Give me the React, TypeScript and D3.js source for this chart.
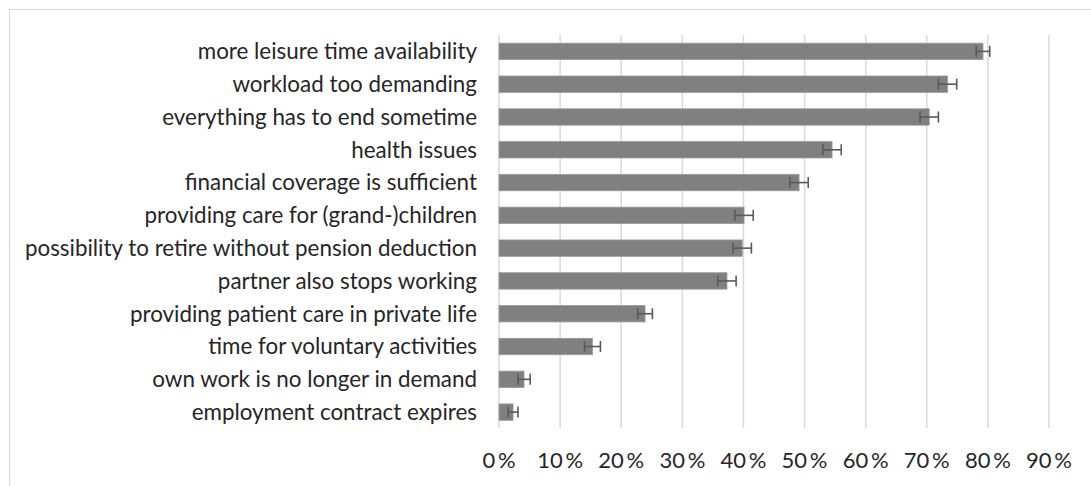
import React from "react";
import * as d3 from "d3";

const categories = [
  "more leisure time availability",
  "workload too demanding",
  "everything has to end sometime",
  "health issues",
  "financial coverage is sufficient",
  "providing care for (grand-)children",
  "possibility to retire without pension deduction",
  "partner also stops working",
  "providing patient care in private life",
  "time for voluntary activities",
  "own work is no longer in demand",
  "employment contract expires",
];
const values = [79.2, 73.4, 70.4, 54.5, 49.1, 40.1, 39.8, 37.3, 23.9, 15.3, 4.1, 2.3];
const errors = [1.1, 1.5, 1.5, 1.5, 1.5, 1.5, 1.5, 1.5, 1.2, 1.3, 1.0, 0.8];
const ticks = [0, 10, 20, 30, 40, 50, 60, 70, 80, 90];

const W = 1091;
const H = 486;
const FONT = "Lato, 'Open Sans', sans-serif";

export default function App() {
  const x = d3.scaleLinear().domain([0, 90]).range([499, 1049]);
  const y = d3.scaleBand<string>().domain(categories).range([35, 428.5]).paddingInner(0.5).paddingOuter(0.25);
  const bw = y.bandwidth();
  return (
    <div style={{ position: "absolute", left: 0, top: 0 }}>
      <svg width={W} height={H} style={{ display: "block", background: "#fff" }}>
        <rect x={9.5} y={9.5} width={1100} height={500} fill="#fff" stroke="#d9d9d9" strokeWidth={1.2} />
        {ticks.map((t) => (
          <line key={t} x1={x(t)} x2={x(t)} y1={35} y2={428} stroke="#d9d9d9" strokeWidth={1.5} />
        ))}
        {categories.map((c, i) => {
          const cy = (y(c) as number) + bw / 2;
          const v = values[i];
          const e = errors[i];
          return (
            <g key={c}>
              <rect x={x(0)} y={y(c)} width={x(v) - x(0)} height={bw} fill="#808080" stroke="#9a9a9a" strokeWidth={0.8} />
              <line x1={x(v - e)} x2={x(v + e)} y1={cy} y2={cy} stroke="#595959" strokeWidth={1.6} />
              <line x1={x(v - e)} x2={x(v - e)} y1={cy - 5.5} y2={cy + 5.5} stroke="#595959" strokeWidth={1.6} />
              <line x1={x(v + e)} x2={x(v + e)} y1={cy - 5.5} y2={cy + 5.5} stroke="#595959" strokeWidth={1.6} />
              <text x={477} y={cy} dy="0.35em" textAnchor="end" fontFamily={FONT} fontSize={22.4} fill="#262626">
                {c}
              </text>
            </g>
          );
        })}
        {ticks.map((t) => (
          <text key={"l" + t} x={x(t)} y={460} dy="0.35em" textAnchor="middle" fontFamily={FONT} fontSize={22} fill="#262626">
            {t + "\u2009%"}
          </text>
        ))}
      </svg>
    </div>
  );
}
